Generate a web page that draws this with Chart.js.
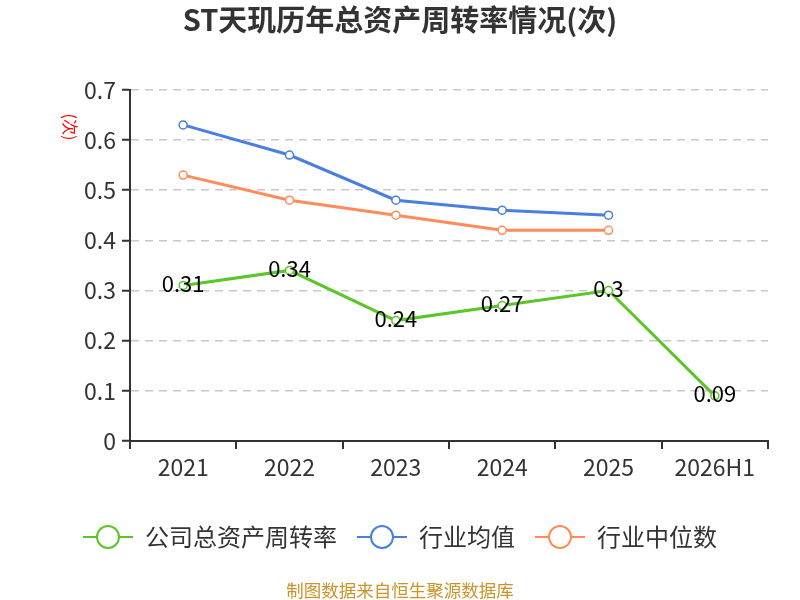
<!DOCTYPE html>
<html><head><meta charset="utf-8">
<script src="https://cdn.jsdelivr.net/npm/chart.js@4"></script>
<style>html,body{margin:0;padding:0;background:#fff}canvas{display:block}</style>
</head><body>
<canvas id="c" width="800" height="600"></canvas>
<script>
const categories = ['2021','2022','2023','2024','2025','2026H1'];
const companyValues = [0.31, 0.34, 0.24, 0.27, 0.30, 0.09];
const industryMean = [0.63, 0.57, 0.48, 0.46, 0.45, null];
const industryMedian = [0.53, 0.48, 0.45, 0.42, 0.42, null];
const yTicks = [0, 0.1, 0.2, 0.3, 0.4, 0.5, 0.6, 0.7];
const seriesNames = ['公司总资产周转率', '行业均值', '行业中位数'];
const colors = ['#5bc52a', '#4a7fe0', '#ff8c5a'];
const FONT = '"Microsoft YaHei","Noto Sans CJK SC","Noto Sans",sans-serif';

const ICON_W = 50;
function legendIcon(color){
  const cv = document.createElement('canvas');
  cv.width = ICON_W; cv.height = 28;
  const g = cv.getContext('2d');
  g.strokeStyle = color; g.lineWidth = 2;
  g.beginPath(); g.moveTo(0,14); g.lineTo(50,14); g.stroke();
  g.fillStyle = '#fff';
  g.beginPath(); g.arc(25,14,11,0,Math.PI*2); g.fill(); g.stroke();
  return cv;
}
const icons = colors.map(legendIcon);

const extras = {
  id: 'extras',
  afterDraw(chart){
    const ctx = chart.ctx;
    ctx.save();
    const meta = chart.getDatasetMeta(0);
    ctx.font = '22px ' + FONT;
    ctx.fillStyle = '#000';
    ctx.textAlign = 'center'; ctx.textBaseline = 'middle';
    meta.data.forEach((pt, i) => {
      ctx.fillText(String(companyValues[i]), pt.x, pt.y - 2);
    });
    ctx.translate(70, 127);
    ctx.rotate(Math.PI/2);
    ctx.fillStyle = '#f00';
    ctx.font = '16px ' + FONT;
    ctx.fillText('(次)', 0, 0);
    ctx.restore();
    ctx.save();
    ctx.font = '17.5px ' + FONT;
    ctx.fillStyle = '#c9952b';
    ctx.textAlign = 'center'; ctx.textBaseline = 'middle';
    ctx.fillText('制图数据来自恒生聚源数据库', 400, 590);
    ctx.restore();
  }
};

const mk = (i, data) => ({
  label: seriesNames[i], data,
  borderColor: colors[i], backgroundColor: '#fff',
  borderWidth: 3, pointRadius: 4, pointBorderWidth: 1.5,
  pointBackgroundColor: '#fff', pointBorderColor: colors[i],
  tension: 0, spanGaps: false, pointStyle: 'circle'
});

new Chart(document.getElementById('c'), {
  type: 'line',
  data: { labels: categories, datasets: [
    mk(0, companyValues), mk(1, industryMean), mk(2, industryMedian)
  ] },
  options: {
    responsive: false, animation: false,
    layout: { padding: { left: 32, right: 32, top: 0, bottom: 41 } },
    plugins: {
      title: { display: true, text: 'ST天玑历年总资产周转率情况(次)', color: '#333',
        font: { size: 29, weight: 'bold', family: FONT }, padding: { top: 3, bottom: 52 } },
      legend: { display: true, position: 'bottom',
        labels: { usePointStyle: true, pointStyleWidth: ICON_W, boxHeight: 24, color: '#333', font: { size: 24, family: FONT },
          padding: 20,
          generateLabels(chart){
            return seriesNames.map((n, i) => ({ text: n, pointStyle: icons[i], fillStyle: '#fff',
              strokeStyle: colors[i], lineWidth: 0, fontColor: '#333', datasetIndex: i, hidden: false }));
          }
        } },
      tooltip: { enabled: false }
    },
    scales: {
      x: { offset: true,
        grid: { display: true, drawOnChartArea: false, offset: true, color: '#333', lineWidth: 2, tickLength: 8, tickWidth: 2 },
        border: { color: '#333', width: 2 },
        ticks: { color: '#333', font: { size: 23, family: FONT }, padding: 4 },
        afterFit(s){ s.height = 64; } },
      y: { min: 0, max: 0.7,
        afterBuildTicks(s){ s.ticks = yTicks.map(v => ({ value: v })); },
        grid: { color: '#c8c8c8', lineWidth: 1.5, tickColor: '#333', tickLength: 8, tickWidth: 2, drawTicks: true },
        border: { color: '#333', width: 2, dash: [8, 6] },
        ticks: { color: '#333', font: { size: 23, family: FONT }, padding: 6,
          callback: v => String(v) },
        afterFit(s){ s.width = 98; } }
    }
  },
  plugins: [extras]
});
</script>
</body></html>
